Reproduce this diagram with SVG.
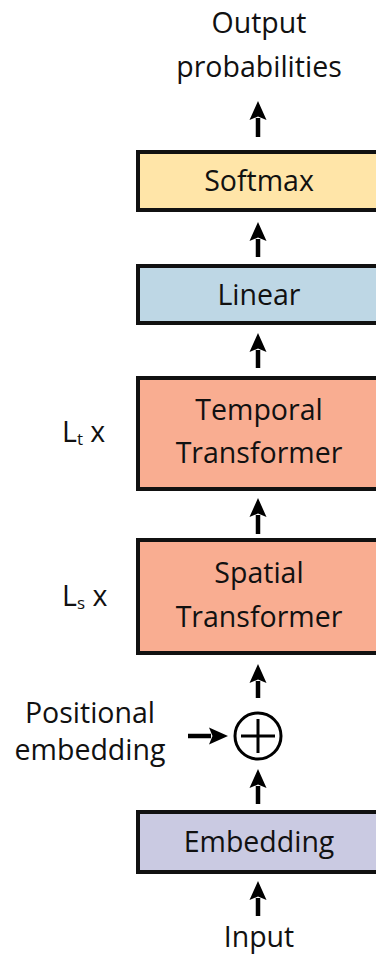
<svg xmlns="http://www.w3.org/2000/svg" width="376" height="965" viewBox="0 0 376 965">
<style>
text{font-family:"Open Sans","Noto Sans","Liberation Sans",sans-serif;font-size:28.5px;fill:#111;}
.c{text-anchor:middle;}
.box{stroke:#111;stroke-width:4;}
.arr{stroke:#000;stroke-width:4.5;fill:none;marker-end:url(#ah);}
</style>
<defs>
<marker id="ah" markerUnits="userSpaceOnUse" markerWidth="24" markerHeight="24" viewBox="0 -12 24 24" refX="2" refY="0" orient="auto">
<path d="M0,-8.5 L19,0 L0,8.5 L3.5,0 Z" fill="#000"/>
</marker>
</defs>
<rect width="376" height="965" fill="#fff"/>
<g id="output"><text class="c" x="259" y="33">Output</text><text class="c" x="259" y="77">probabilities</text></g>
<g id="softmax"><rect class="box" x="138" y="152" width="244" height="58" fill="#FFE5A8"/><text class="c" x="259" y="191">Softmax</text></g>
<g id="linear"><rect class="box" x="138" y="266" width="244" height="57" fill="#BED7E5"/><text class="c" x="259" y="305">Linear</text></g>
<g id="temporal"><rect class="box" x="138" y="378" width="244" height="111" fill="#F9AD91"/><text class="c" x="259" y="420">Temporal</text><text class="c" x="259" y="463">Transformer</text></g>
<g id="lt"><text x="62" y="442">L<tspan font-size="17" dy="3">t</tspan><tspan dy="-3"> x</tspan></text></g>
<g id="spatial"><rect class="box" x="138" y="540" width="244" height="113" fill="#F9AD91"/><text class="c" x="259" y="583">Spatial</text><text class="c" x="259" y="627">Transformer</text></g>
<g id="ls"><text x="62" y="606">L<tspan font-size="17" dy="3">s</tspan><tspan dy="-3"> x</tspan></text></g>
<g id="plus"><circle cx="258" cy="736" r="23" fill="none" stroke="#000" stroke-width="3"/><path d="M241,736 H275 M258,719 V753" stroke="#000" stroke-width="3"/></g>
<g id="posemb"><text class="c" x="90" y="723">Positional</text><text class="c" x="90" y="760">embedding</text></g>
<g id="embedding"><rect class="box" x="138" y="812" width="244" height="60" fill="#CACAE2"/><text class="c" x="259" y="852">Embedding</text></g>
<g id="input"><text class="c" x="259" y="947">Input</text></g>
<g id="connectors">
<line class="arr" x1="258" y1="137" x2="258" y2="118"/>
<line class="arr" x1="258" y1="257" x2="258" y2="239"/>
<line class="arr" x1="258" y1="368" x2="258" y2="350"/>
<line class="arr" x1="258" y1="534" x2="258" y2="515"/>
<line class="arr" x1="258" y1="698" x2="258" y2="681"/>
<line class="arr" x1="258" y1="804" x2="258" y2="786"/>
<line class="arr" x1="258" y1="916" x2="258" y2="898"/>
<line class="arr" x1="188" y1="736" x2="211" y2="736"/>
</g>
</svg>
